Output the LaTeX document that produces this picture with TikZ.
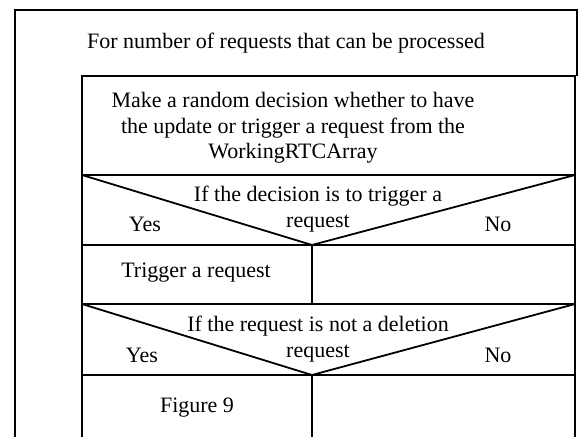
\documentclass[tikz,border=0pt]{standalone}
\usepackage{fontspec}
\setmainfont{Liberation Serif}
\begin{document}
\begin{tikzpicture}[x=1pt,y=-1pt,line width=1.8pt,font=\fontsize{22}{25.5}\selectfont]
    \tikzstyle{txt}=[align=center,inner sep=0pt]
    \useasboundingbox (0,0) rectangle (579,437);

    % outer loop box and inner block
    \coordinate (O-tl) at (15,10);
    \coordinate (O-tr) at (577,10);
    \coordinate (I-tl) at (82,76);
    \coordinate (I-tr) at (575,76);
    \draw (15,437) -- (O-tl) -- (O-tr) -- (577,76);
    \draw (82,437) -- (I-tl) -- (I-tr) -- (575,437);

    % row separators
    \foreach \name/\y in {a/175, b/245, c/304, d/375}
        \draw (82,\y) coordinate (L-\name) -- (575,\y) coordinate (R-\name);

    % the two decisions
    \coordinate (M-b) at (312,245);
    \coordinate (M-d) at (312,375);
    \draw (L-a) -- (M-b) -- (R-a);
    \draw (L-c) -- (M-d) -- (R-c);
    \draw (M-b) -- (312,304);
    \draw (M-d) -- (312,437);

    \node[txt] (loop) at (286,43) {For number of requests that can be processed};
    \node[txt] (decide) at (293,128) {Make a random decision whether to have\\the update or trigger a request from the\\WorkingRTCArray};
    \node[txt] (cond1) at (318,209) {If the decision is to trigger a\\request};
    \node[txt] (yes1) at (145,224) {Yes};
    \node[txt] (no1) at (498,224) {No};
    \node[txt] (trig) at (196,273) {Trigger a request};
    \node[txt] (cond2) at (318,339) {If the request is not a deletion\\request};
    \node[txt] (yes2) at (142,355) {Yes};
    \node[txt] (no2) at (498,355) {No};
    \node[txt] (fig) at (197,408) {Figure 9};
\end{tikzpicture}
\end{document}
